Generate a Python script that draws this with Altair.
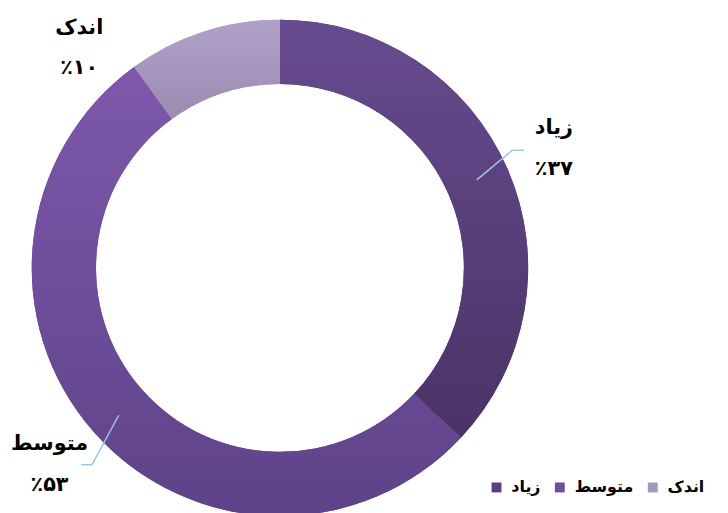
import altair as alt
import pandas as pd

categories = ["زیاد", "متوسط", "اندک"]
values = [37, 53, 10]
percent_labels = ["٪۳۷", "٪۵۳", "٪۱۰"]
colors = ["#5a4080", "#6f4e9c", "#a596bb"]
grad_top = ["#674b90", "#7e58ac", "#afa1c8"]
grad_bottom = ["#4a3365", "#5e4388", "#9b8bb1"]

df = pd.DataFrame({"cat": categories, "value": values, "pct": percent_labels,
                   "idx": list(range(len(categories)))})

CX, CY = 275, 260
R_OUT, R_IN = 251, 186
FONT = "DejaVu Sans"

base = alt.Chart(df).encode(
    theta=alt.Theta("value:Q", stack=True),
    order=alt.Order("idx:Q"),
    x=alt.value(CX),
    y=alt.value(CY),
)

ring = base.mark_arc(radius=R_OUT, radius2=R_IN).encode(
    color=alt.Color(
        "cat:N",
        scale=alt.Scale(domain=categories, range=colors),
        legend=alt.Legend(
            title=None, orient="none", direction="horizontal",
            legendX=486, legendY=474, symbolType="square", symbolSize=100,
            symbolStrokeWidth=0, labelFont=FONT, labelFontSize=16,
            labelFontWeight="bold", labelColor="#000000", columnPadding=11,
            labelOffset=7,
        ),
    )
)

layers = [ring]
for i, c in enumerate(categories):
    g = alt.Gradient(
        gradient="linear",
        stops=[alt.GradientStop(color=grad_top[i], offset=0),
               alt.GradientStop(color=grad_bottom[i], offset=1)],
        x1=0, x2=0, y1=0, y2=1,
    )
    layers.append(
        base.mark_arc(radius=R_OUT, radius2=R_IN, fill=g).encode(
            opacity=alt.condition(alt.datum.cat == c, alt.value(1), alt.value(0))
        )
    )

label_pos = {"زیاد": (552, 119, 160), "متوسط": (42, 438, 480), "اندک": (72, 17, 58)}
for c, (lx, ly1, ly2) in label_pos.items():
    sub = alt.Chart(df).transform_filter(alt.datum.cat == c)
    layers.append(sub.mark_text(font=FONT, fontSize=21, fontWeight="bold", color="#000000",
                                baseline="middle", align="center").encode(
        x=alt.value(lx), y=alt.value(ly1), text="cat:N"))
    layers.append(sub.mark_text(font=FONT, fontSize=21, fontWeight="bold", color="#000000",
                                baseline="middle", align="center").encode(
        x=alt.value(lx), y=alt.value(ly2), text="pct:N"))

segments = [
    ("زیاد", (474, 171, 510, 141)), ("زیاد", (510, 141, 522, 141)),
    ("متوسط", (112, 409, 85, 459)), ("متوسط", (85, 459, 74, 459)),
]
for c, (x1, y1, x2, y2) in segments:
    sub = alt.Chart(df).transform_filter(alt.datum.cat == c)
    layers.append(sub.mark_rule(color="#9dc3e6", strokeWidth=1.5).encode(
        x=alt.value(x1), y=alt.value(y1), x2=alt.value(x2), y2=alt.value(y2)))

chart = alt.layer(*layers).properties(
    width=720, height=505, autosize="none", padding=0
).configure_view(stroke=None)

chart.save("out.html", embed_options={"renderer": "svg", "actions": False})
